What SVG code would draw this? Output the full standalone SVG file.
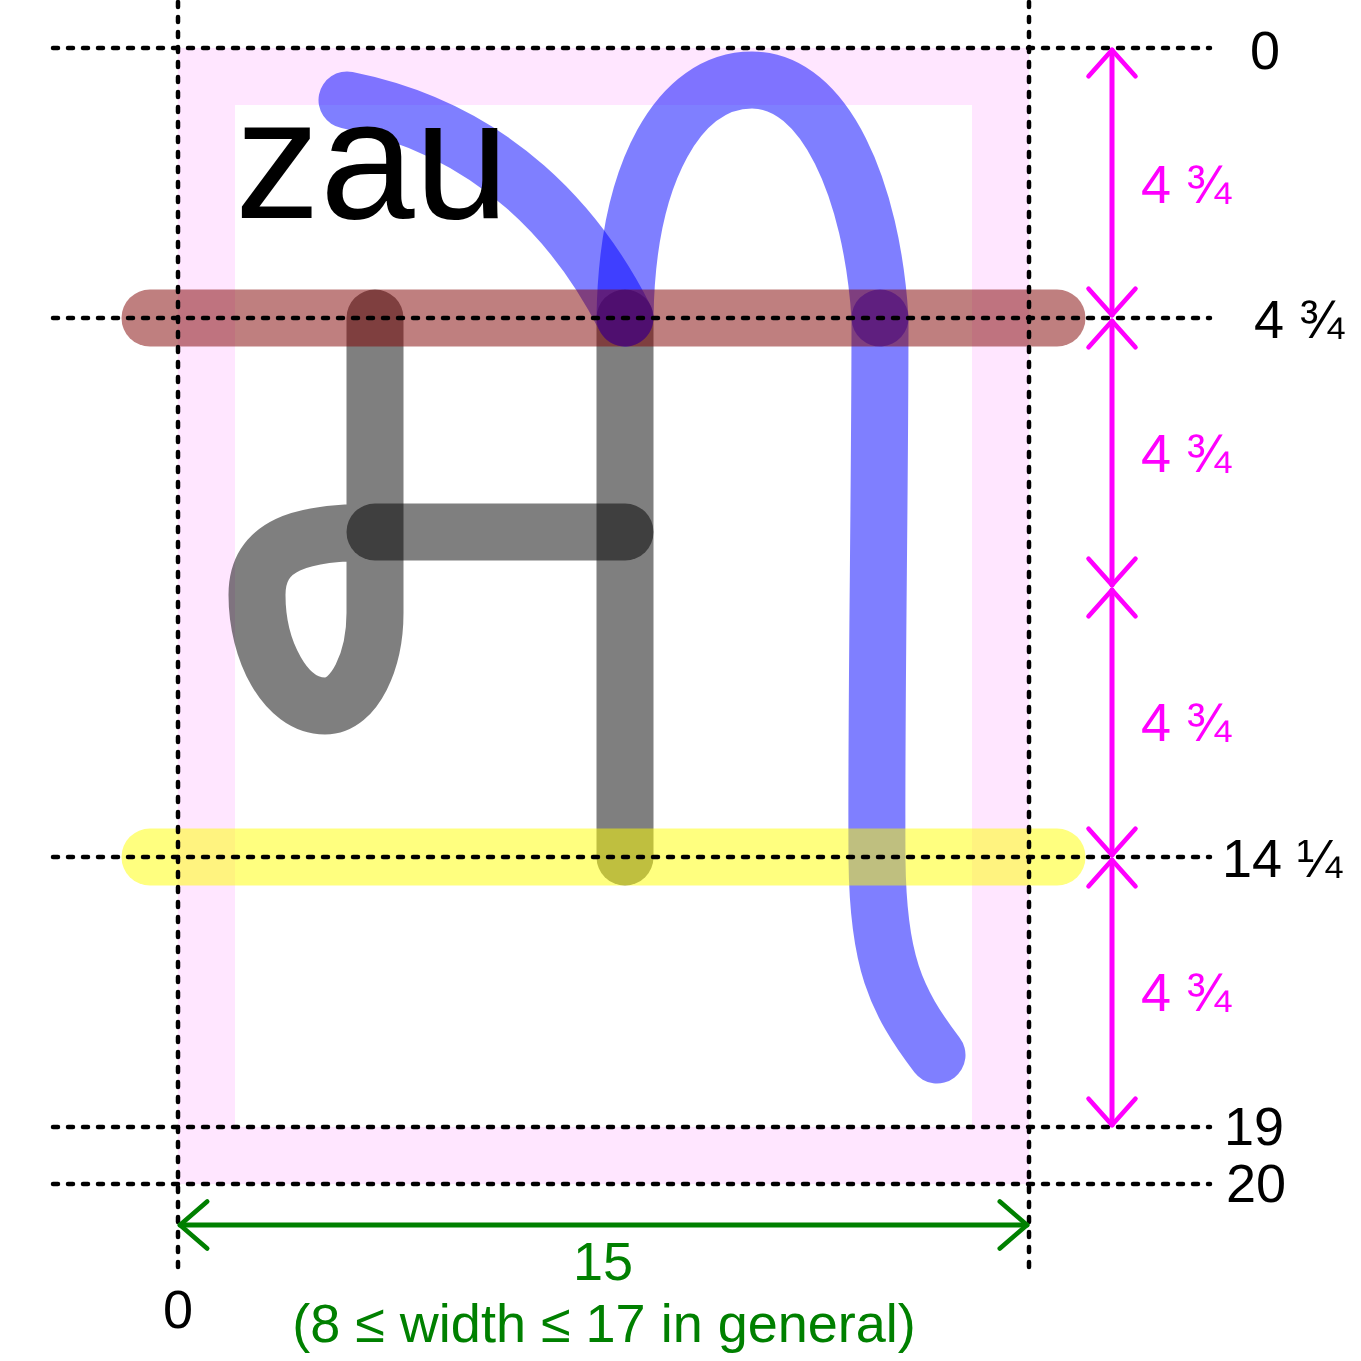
<svg xmlns="http://www.w3.org/2000/svg" width="1361" height="1361" viewBox="0 0 1361 1361">
  <style>
    .frame { fill: none; stroke: #ffe6ff; stroke-width: 57; }
    .stk { fill: none; stroke-width: 57; stroke-linecap: round; stroke-linejoin: round; stroke-opacity: 0.5; }
    .gray { stroke: #000000; }
    .blue { stroke: #0000ff; }
    .brown { stroke: #800000; }
    .yellow { stroke: #ffff00; }
    .dash { fill: none; stroke: #000000; stroke-width: 4.5; stroke-linecap: round; stroke-dasharray: 5 10; }
    .mag { fill: none; stroke: #ff00ff; stroke-width: 5; stroke-linecap: round; }
    .grn { fill: none; stroke: #008000; stroke-width: 5; stroke-linecap: round; }
    text { font-family: "Liberation Sans", Arial, sans-serif; }
    .lbl { font-size: 54px; fill: #000000; }
    .mlbl { font-size: 54px; fill: #ff00ff; }
    .glbl { font-size: 54px; fill: #008000; text-anchor: middle; }
    .big { font-size: 170px; fill: #000000; }
  </style>
  <defs>
    <marker id="mhead" markerUnits="userSpaceOnUse" orient="auto-start-reverse" refX="0" refY="0" markerWidth="60" markerHeight="60" viewBox="-35 -32 40 64" overflow="visible">
      <path d="M-28,-25 L0,0 L-28,25" fill="none" stroke="#ff00ff" stroke-width="5" stroke-linecap="round" stroke-linejoin="round"/>
    </marker>
    <marker id="ghead" markerUnits="userSpaceOnUse" orient="auto-start-reverse" refX="0" refY="0" markerWidth="60" markerHeight="60" viewBox="-35 -32 40 64" overflow="visible">
      <path d="M-29,-25 L0,0 L-29,25" fill="none" stroke="#008000" stroke-width="5" stroke-linecap="round" stroke-linejoin="round"/>
    </marker>
  </defs>

  <rect width="1361" height="1361" fill="#ffffff"/>

  <g id="frame">
    <rect class="frame" x="206.5" y="76.5" width="794" height="1079"/>
  </g>

  <g id="gray-strokes">
    <path class="stk gray" d="M375,318 V613 C375,660 355,706 325,706 C285,706 257,650 257,595 C257,545 300,532 375,532"/>
    <path class="stk gray" d="M625,318 V857"/>
    <path class="stk gray" d="M375,532 H625"/>
  </g>

  <g id="blue-strokes">
    <path class="stk blue" d="M347,100 C497,130 580,229 625,318"/>
    <path class="stk blue" d="M625,318 C627,170 680,80 752,80 C825,80 872,190 880,318"/>
    <path class="stk blue" d="M880,318 C880,500 876,700 877,860 C878,960 895,1000 937,1055"/>
  </g>

  <g id="guide-bars">
    <path class="stk brown" d="M150,318 H1057"/>
    <path class="stk yellow" d="M150,857 H1057"/>
  </g>

  <g id="title">
    <text class="big" x="235" y="218">zau</text>
  </g>

  <g id="guides">
    <line class="dash" x1="53" y1="48" x2="1210" y2="48"/>
    <line class="dash" x1="53" y1="318" x2="1210" y2="318"/>
    <line class="dash" x1="53" y1="857" x2="1210" y2="857"/>
    <line class="dash" x1="53" y1="1127" x2="1210" y2="1127"/>
    <line class="dash" x1="53" y1="1184" x2="1210" y2="1184"/>
    <line class="dash" x1="178" y1="2" x2="178" y2="1268"/>
    <line class="dash" x1="1029" y1="2" x2="1029" y2="1268"/>
  </g>

  <g id="connectors">
    <line class="mag" x1="1112" y1="50" x2="1112" y2="315" marker-start="url(#mhead)" marker-end="url(#mhead)"/>
    <line class="mag" x1="1112" y1="321" x2="1112" y2="585" marker-start="url(#mhead)" marker-end="url(#mhead)"/>
    <line class="mag" x1="1112" y1="590" x2="1112" y2="855" marker-start="url(#mhead)" marker-end="url(#mhead)"/>
    <line class="mag" x1="1112" y1="860" x2="1112" y2="1125" marker-start="url(#mhead)" marker-end="url(#mhead)"/>
    <line class="grn" x1="180" y1="1225" x2="1027" y2="1225" marker-start="url(#ghead)" marker-end="url(#ghead)"/>
  </g>

  <g id="dimension-labels">
    <text class="mlbl" x="1141" y="203">4 ¾</text>
    <text class="mlbl" x="1141" y="472">4 ¾</text>
    <text class="mlbl" x="1141" y="741">4 ¾</text>
    <text class="mlbl" x="1141" y="1011">4 ¾</text>
    <text class="glbl" x="603" y="1280">15</text>
    <text class="glbl" x="604" y="1342">(8 ≤ width ≤ 17 in general)</text>
  </g>

  <g id="axis-labels">
    <text class="lbl" x="1250" y="69">0</text>
    <text class="lbl" x="1254" y="338">4 ¾</text>
    <text class="lbl" x="1222" y="877">14 ¼</text>
    <text class="lbl" x="1224" y="1145">19</text>
    <text class="lbl" x="1226" y="1202">20</text>
    <text class="lbl" x="178" y="1328" text-anchor="middle">0</text>
  </g>
</svg>
